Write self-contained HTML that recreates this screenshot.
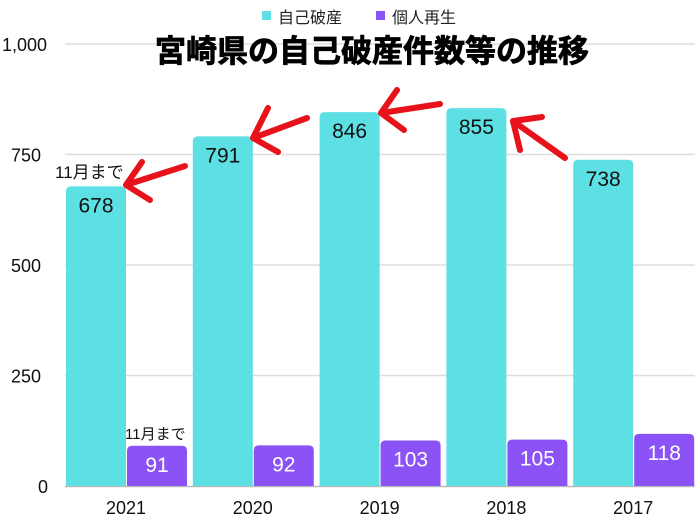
<!DOCTYPE html>
<html><head><meta charset="utf-8"><style>
body{margin:0;background:#fff}
svg{display:block;font-family:"Liberation Sans","Noto Sans CJK JP",sans-serif}
</style></head><body>
<svg id="c" width="700" height="525">
<g id="grid"></g><g id="bars"></g><g id="labels"></g>
<g>
<rect x="262" y="11" width="9" height="9" fill="#5ce0e4"/>
<text x="278" y="23" font-size="16" fill="#222">自己破産</text>
<rect x="376" y="11" width="9" height="9" fill="#8b52f5"/>
<text x="392" y="23" font-size="16" fill="#222">個人再生</text>
</g>
<text x="372" y="62" text-anchor="middle" font-size="31" font-weight="bold" fill="#000" stroke="#000" stroke-width="0.8">宮崎県の自己破産件数等の推移</text>
<g fill="none" stroke="#e8121a" stroke-width="6" stroke-linecap="round" stroke-linejoin="round">
<path d="M185 166 L126 185 M126 185 L142 162 M126 185 L150 200"/>
<path d="M307 118 L253 138 M253 138 L268 108 M253 138 L278 152"/>
<path d="M440 104 L381 113 M381 113 L397 90 M381 113 L404 130"/>
<path d="M565 158 L513 121 M513 121 L542 117 M513 121 L520 150"/>
</g>
<text x="55" y="178" font-size="17" fill="#111">11月まで</text>
<text x="125" y="439" font-size="15" fill="#111">11月まで</text>
</svg>
<script>
const years=["2021","2020","2019","2018","2017"];
const bankruptcy=[678,791,846,855,738];
const rehabilitation=[91,92,103,105,118];
const ticks=[0,250,500,750,1000];
const tickLabels=["0","250","500","750","1,000"];
const NS="http://www.w3.org/2000/svg";
const y0=486,ppu=0.442,x0=66,gw=126.8,bw=60;
const y=v=>y0-v*ppu;
function mk(t,a,p){const e=document.createElementNS(NS,t);for(const k in a)e.setAttribute(k,a[k]);p.appendChild(e);return e;}
const G=document.getElementById('grid'),B=document.getElementById('bars'),L=document.getElementById('labels');
ticks.forEach((t,i)=>{
 if(t>0){const l=mk('line',{x1:65,x2:695,y1:y(t),y2:y(t),stroke:'#ddd','stroke-width':1.5},G);
 
 }
 const tx=mk('text',{x:i==4?2:(t==0?38:11),y:y(t)+7,'font-size':18,fill:'#111'},G);tx.textContent=tickLabels[i];
 
 
});
const ax=mk('line',{x1:65,x2:695,y1:y0+0.5,y2:y0+0.5,stroke:'#bbb','stroke-width':1.5},G);


function bar(x,v,c,tc,name){
 const h=v*ppu;
 const p=mk('path',{d:`M${x} ${y0} V${y0-h+5} Q${x} ${y0-h} ${x+5} ${y0-h} H${x+bw-5} Q${x+bw} ${y0-h} ${x+bw} ${y0-h+5} V${y0} Z`,fill:c},B);
 
 
 const t=mk('text',{x:x+bw/2,y:y0-h+26,'text-anchor':'middle','font-size':21,fill:tc},L);t.textContent=v;
 
 
}
years.forEach((yr,i)=>{
 const gx=x0+i*gw;
 bar(gx,bankruptcy[i],'#5ce0e4','#111','bar-bankruptcy-'+yr);
 bar(gx+bw+1,rehabilitation[i],'#8b52f5','#fff','bar-rehabilitation-'+yr);
 const t=mk('text',{x:gx+bw,y:514,'text-anchor':'middle','font-size':18,fill:'#111'},L);t.textContent=yr;
 
 
});
</script>
</body></html>
